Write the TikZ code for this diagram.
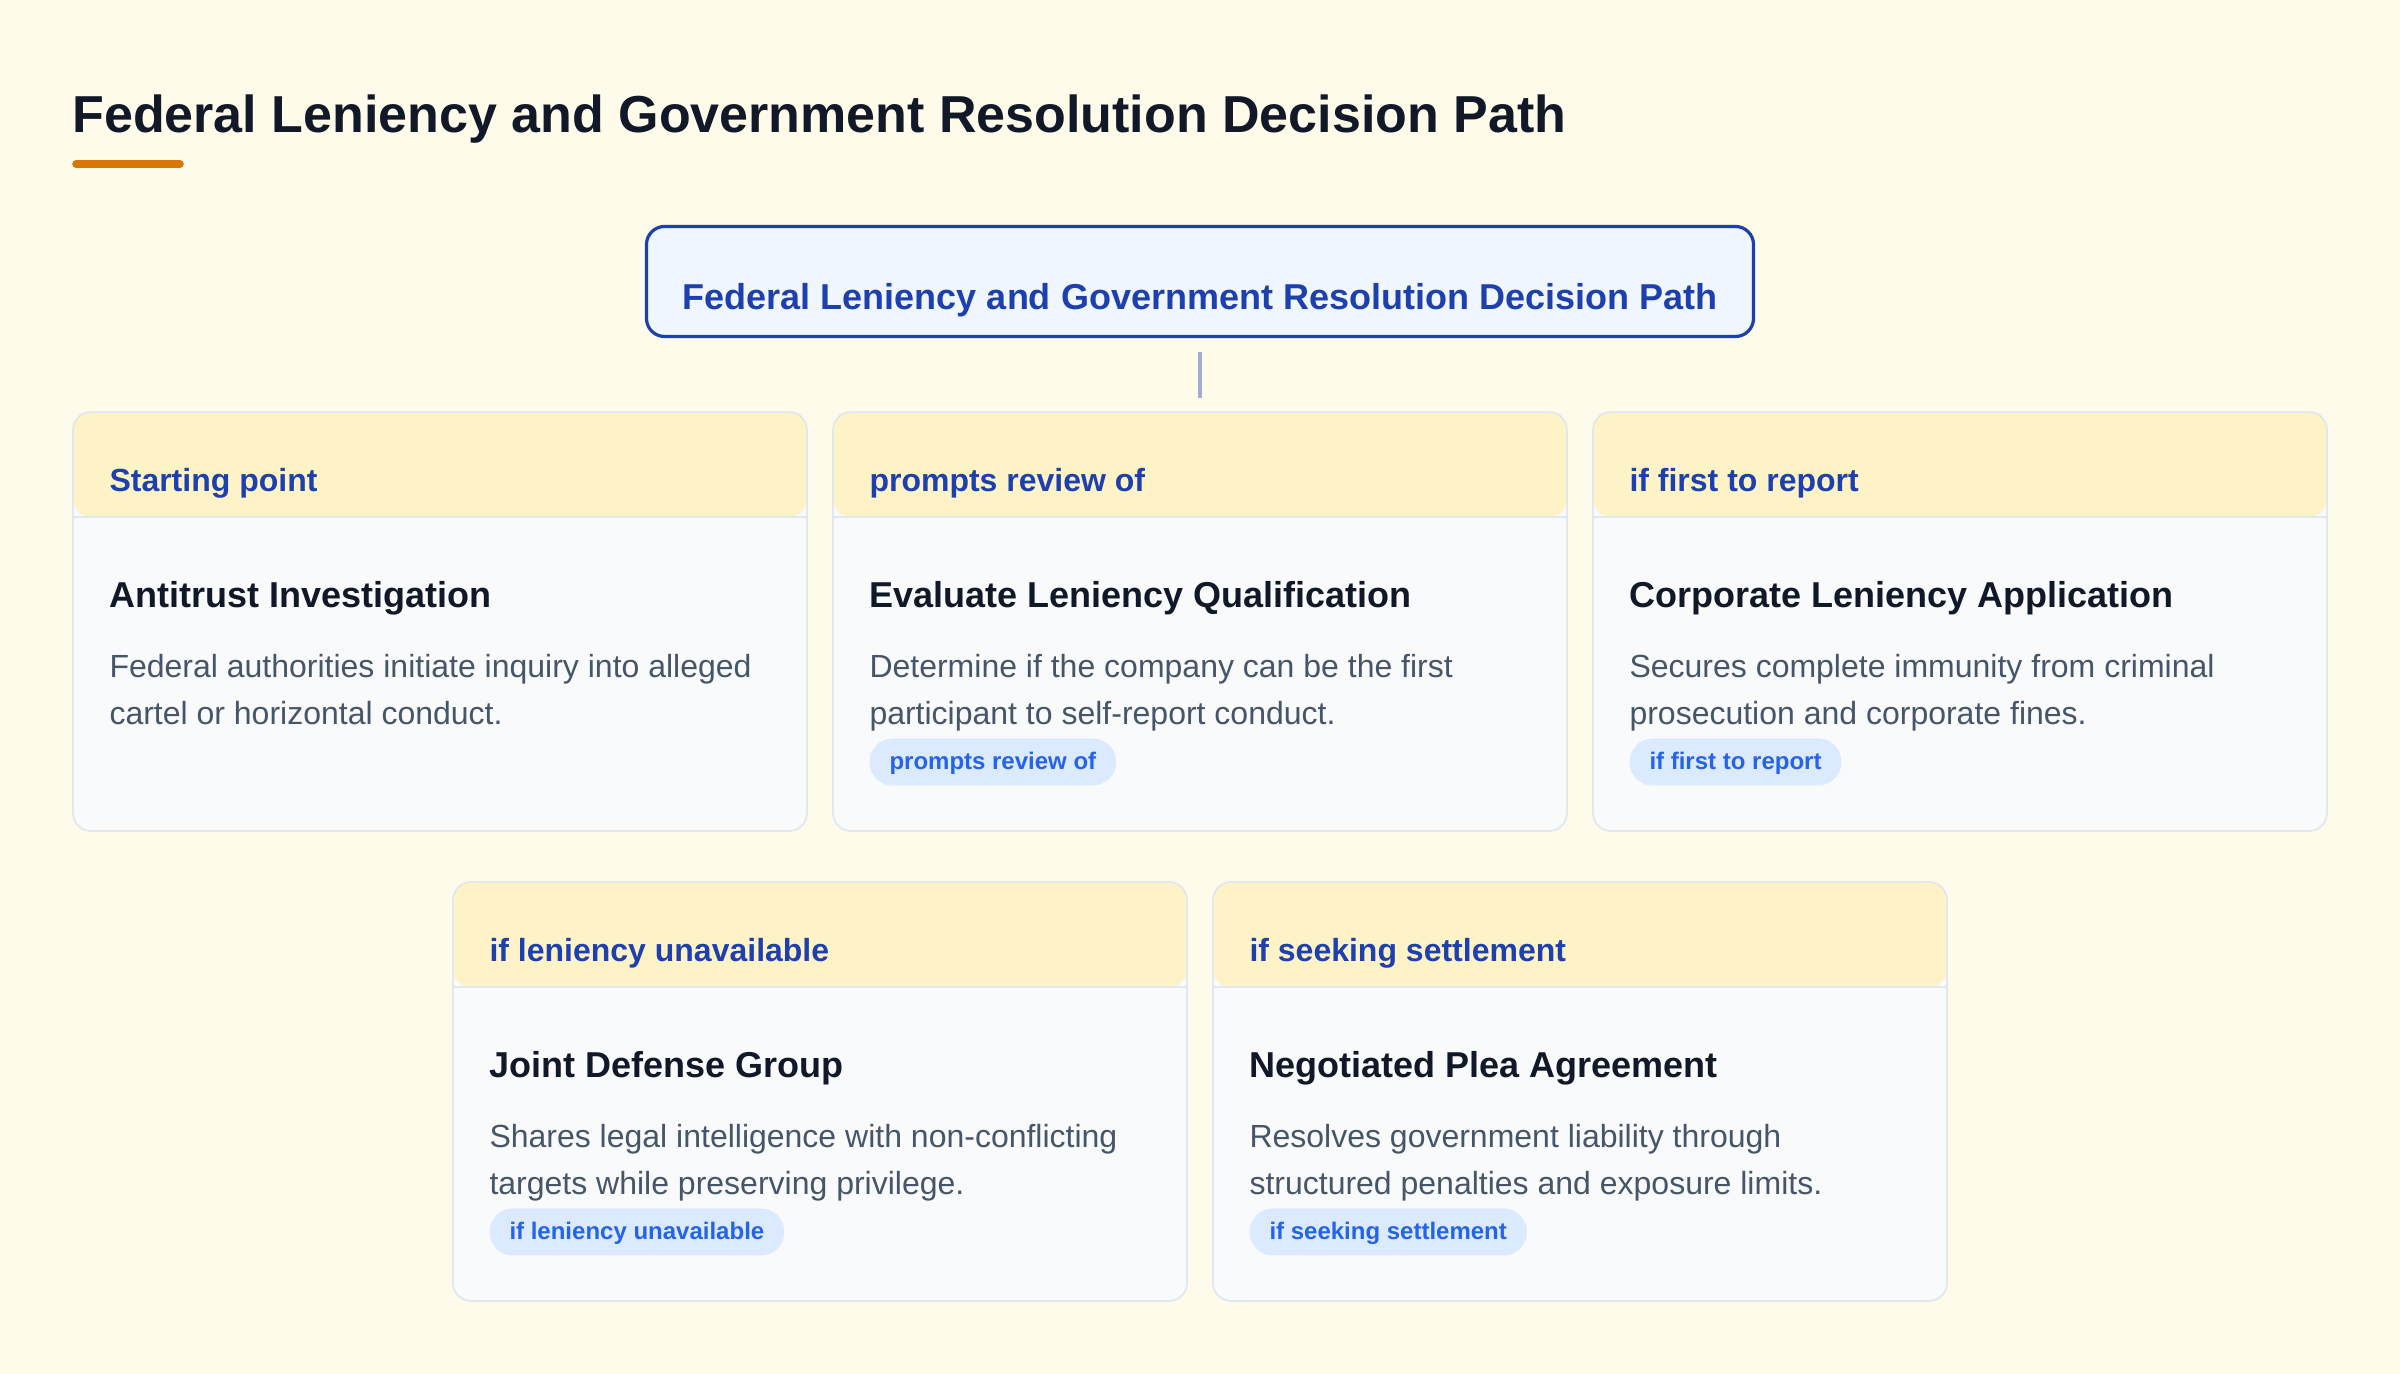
\documentclass[tikz,border=0pt]{standalone}
\usepackage{fontspec}
\setmainfont{Liberation Sans}
\usetikzlibrary{positioning, calc}
\definecolor{bgcol}{HTML}{FEFBEA}
\definecolor{headfill}{HTML}{FEF3C7}
\definecolor{bodyfill}{HTML}{F8FAFC}
\definecolor{cardborder}{HTML}{E2E8F0}
\definecolor{headblue}{HTML}{1E40AF}
\definecolor{rootfill}{HTML}{EFF6FF}
\definecolor{titlecol}{HTML}{111827}
\definecolor{desccol}{HTML}{475569}
\definecolor{pillfill}{HTML}{DBEAFE}
\definecolor{pilltext}{HTML}{2563EB}
\definecolor{linkcol}{HTML}{A0AED6}
\definecolor{accent}{HTML}{D97706}
\tikzstyle{line} = [draw=linkcol, line width=2pt]
\tikzstyle{bar} = [draw=accent, line width=3.8pt, line cap=round]
\tikzstyle{root} = [rectangle, draw=headblue, line width=1.6pt, fill=rootfill, rounded corners=9pt, minimum width=553.5pt, minimum height=55pt, text height=31pt, text depth=3pt, text=headblue, font=\fontsize{18}{22}\selectfont\bfseries]
\tikzstyle{card} = [rectangle, draw=cardborder, line width=0.9pt, fill=bodyfill, rounded corners=9pt, minimum width=367pt, minimum height=209.5pt, node distance=380pt,
	path picture={\fill[headfill] (path picture bounding box.north west) rectangle ([yshift=-52.5pt]path picture bounding box.north east);
		\draw[cardborder, line width=0.9pt] ([yshift=-52.5pt]path picture bounding box.north west) -- ([yshift=-52.5pt]path picture bounding box.north east);}]
\tikzstyle{headtxt} = [anchor=base west, inner sep=0pt, text=headblue, font=\fontsize{16}{19}\selectfont\bfseries]
\tikzstyle{cardtitle} = [anchor=base west, inner sep=0pt, text=titlecol, font=\fontsize{18}{22}\selectfont\bfseries]
\tikzstyle{desc} = [anchor=north west, inner sep=0pt, align=left, text=desccol, font=\fontsize{16}{23.5}\selectfont]
\tikzstyle{pill} = [anchor=north west, fill=pillfill, rounded corners=11.75pt, minimum height=23.5pt, inner xsep=10pt, inner ysep=0pt, text height=9pt, text depth=1pt, text=pilltext, font=\fontsize{12}{14}\selectfont\bfseries]
\begin{document}
\begin{tikzpicture}
		\path[use as bounding box, fill=bgcol] (0,0) rectangle (1200pt,687pt);
		
		\node[anchor=base west, inner sep=0pt, text=titlecol, font=\fontsize{26}{31}\selectfont\bfseries] (title) at (36pt,620.5pt) {Federal Leniency and Government Resolution Decision Path};
		\draw[bar] ([shift={(2pt,-15.5pt)}]title.base west) -- ++(52pt,0);
		
		\node[root] (root) at (600pt,546.25pt) {Federal Leniency and Government Resolution Decision Path};
		
		\node[card, below of=root, node distance=170pt] (c2) {};
		\node[card, left of=c2] (c1) {};
		\node[card, right of=c2] (c3) {};
		\node[card, below of=c1, node distance=235pt, xshift=190pt] (c4) {};
		\node[card, right of=c4] (c5) {};
		
		\path [line, shorten <=7pt, shorten >=6.5pt] (root) to (c2);
		
		\node[headtxt] (h1) at ([shift={(18.5pt,-40.2pt)}]c1.north west) {Starting point};
		\node[cardtitle] (t1) at ([shift={(18.5pt,-98.3pt)}]c1.north west) {Antitrust Investigation};
		\node[desc] (d1) at ([shift={(18.5pt,-116.8pt)}]c1.north west) {\strut Federal authorities initiate inquiry into alleged\\cartel or horizontal conduct.};
		
		\node[headtxt] (h2) at ([shift={(18.5pt,-40.2pt)}]c2.north west) {prompts review of};
		\node[cardtitle] (t2) at ([shift={(18.5pt,-98.3pt)}]c2.north west) {Evaluate Leniency Qualification};
		\node[desc] (d2) at ([shift={(18.5pt,-116.8pt)}]c2.north west) {\strut Determine if the company can be the first\\participant to self-report conduct.};
		\node[pill] (p2) at ([shift={(18.5pt,-163.5pt)}]c2.north west) {prompts review of};
		
		\node[headtxt] (h3) at ([shift={(18.5pt,-40.2pt)}]c3.north west) {if first to report};
		\node[cardtitle] (t3) at ([shift={(18.5pt,-98.3pt)}]c3.north west) {Corporate Leniency Application};
		\node[desc] (d3) at ([shift={(18.5pt,-116.8pt)}]c3.north west) {\strut Secures complete immunity from criminal\\prosecution and corporate fines.};
		\node[pill] (p3) at ([shift={(18.5pt,-163.5pt)}]c3.north west) {if first to report};
		
		\node[headtxt] (h4) at ([shift={(18.5pt,-40.2pt)}]c4.north west) {if leniency unavailable};
		\node[cardtitle] (t4) at ([shift={(18.5pt,-98.3pt)}]c4.north west) {Joint Defense Group};
		\node[desc] (d4) at ([shift={(18.5pt,-116.8pt)}]c4.north west) {\strut Shares legal intelligence with non-conflicting\\targets while preserving privilege.};
		\node[pill] (p4) at ([shift={(18.5pt,-163.5pt)}]c4.north west) {if leniency unavailable};
		
		\node[headtxt] (h5) at ([shift={(18.5pt,-40.2pt)}]c5.north west) {if seeking settlement};
		\node[cardtitle] (t5) at ([shift={(18.5pt,-98.3pt)}]c5.north west) {Negotiated Plea Agreement};
		\node[desc] (d5) at ([shift={(18.5pt,-116.8pt)}]c5.north west) {\strut Resolves government liability through\\structured penalties and exposure limits.};
		\node[pill] (p5) at ([shift={(18.5pt,-163.5pt)}]c5.north west) {if seeking settlement};
		
\end{tikzpicture}
\end{document}
